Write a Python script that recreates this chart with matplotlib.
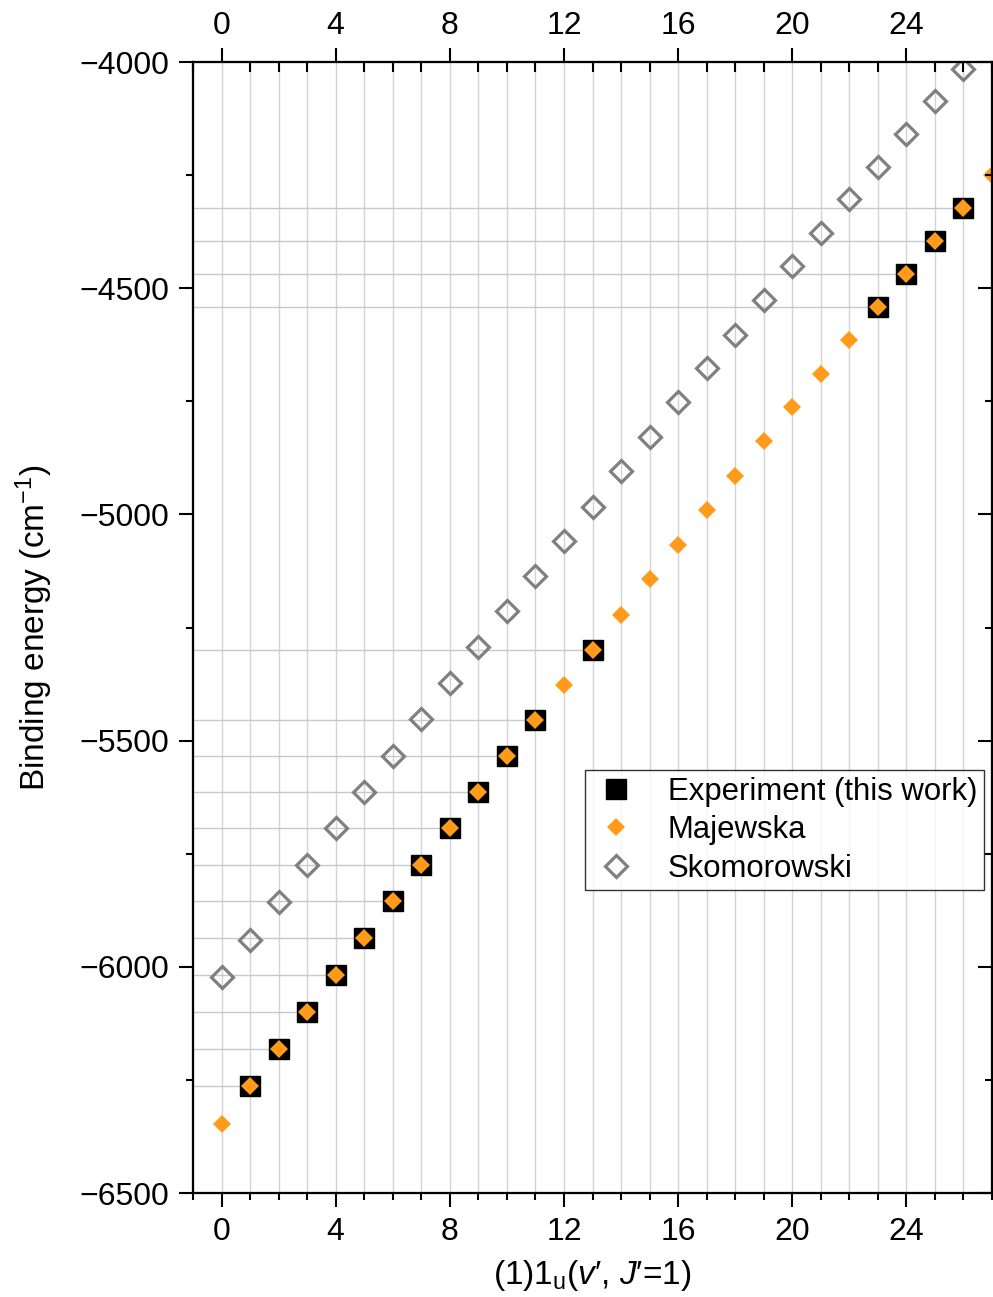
import matplotlib
matplotlib.use("Agg")
import matplotlib.pyplot as plt
from matplotlib.ticker import MultipleLocator
import numpy as np

plt.rcParams['font.family'] = ['Liberation Sans', 'DejaVu Sans']
plt.rcParams['mathtext.fontset'] = 'custom'
plt.rcParams['mathtext.rm'] = 'Liberation Sans'
plt.rcParams['mathtext.it'] = 'Liberation Sans:italic'

# vibrational levels
v_exp = [1, 2, 3, 4, 5, 6, 7, 8, 9, 10, 11, 13, 23, 24, 25, 26]
e_exp = [-6263, -6182, -6100, -6018, -5936, -5855, -5775, -5693, -5614,
         -5534, -5454, -5300, -4542, -4469, -4396, -4323]

v_maj = list(range(0, 28))
e_maj = [-6347, -6263, -6182, -6100, -6018, -5936, -5855, -5775, -5693, -5614,
         -5534, -5454, -5377, -5300, -5222, -5143, -5068, -4990, -4915, -4838,
         -4763, -4690, -4614, -4542, -4469, -4396, -4323, -4250]

v_sko = list(range(0, 27))
e_sko = [-6022, -5941, -5857, -5775, -5693, -5614, -5534, -5452, -5373, -5293,
         -5214, -5136, -5059, -4984, -4904, -4829, -4752, -4676, -4603, -4526,
         -4451, -4378, -4303, -4232, -4159, -4086, -4015]

orange = '#FF9A1A'
gray = '#808080'
grid_c = '#d3d3d3'
fs = 23

fig = plt.figure(figsize=(9.93, 12.97), dpi=100)
ax = fig.add_axes([193/993, 1 - 1193/1297, 799/993, 1131/1297])

xmin, xmax = -1, 27
ymin, ymax = -6500, -4000

# vertical grid at every level
for v in range(0, 27):
    ax.axvline(v, color=grid_c, lw=1.0, zorder=0)

# drop lines from the left axis to the measured levels
ax.hlines(e_exp, xmin, v_exp, color='#c8c8c8', lw=1.0, zorder=0)

ax.plot(v_exp, e_exp, 's', color='black', ms=14, zorder=3,
        label='Experiment (this work)')
ax.plot(v_maj, e_maj, 'D', color=orange, ms=9.5, mew=0, zorder=4,
        label='Majewska')
ax.plot(v_sko, e_sko, 'D', mfc='none', mec=gray, ms=11, mew=2.3, zorder=3,
        label='Skomorowski')

ax.set_xlim(xmin, xmax)
ax.set_ylim(ymin, ymax)

ax.xaxis.set_major_locator(MultipleLocator(4))
ax.xaxis.set_minor_locator(MultipleLocator(1))
ax.yaxis.set_major_locator(MultipleLocator(500))
ax.yaxis.set_minor_locator(MultipleLocator(250))
ax.tick_params(which='major', direction='out', length=10, width=1.5,
               labelsize=fs, pad=7)
ax.tick_params(which='minor', direction='out', length=5, width=1.5)

for s in ax.spines.values():
    s.set_linewidth(1.5)

# top axis
axt = ax.twiny()
axt.set_xlim(xmin, xmax)
axt.xaxis.set_major_locator(MultipleLocator(4))
axt.xaxis.set_minor_locator(MultipleLocator(1))
axt.tick_params(which='major', direction='out', length=10, width=1.5,
                labelsize=fs, pad=5)
axt.tick_params(which='minor', direction='in', length=7, width=1.5)

# right axis ticks
axr = ax.twinx()
axr.set_ylim(ymin, ymax)
axr.yaxis.set_major_locator(MultipleLocator(500))
axr.yaxis.set_minor_locator(MultipleLocator(250))
axr.tick_params(which='major', direction='in', length=10, width=1.5,
                labelright=False)
axr.tick_params(which='minor', direction='in', length=5, width=1.5)

for a in (axt, axr):
    for s in a.spines.values():
        s.set_linewidth(1.5)

ax.set_ylabel('Binding energy (cm$^{\\mathregular{-1}}$)', fontsize=24,
              labelpad=18)
ax.set_xlabel("(1)1$_\\mathregular{u}$($\\mathit{v}$\u2032, $\\mathit{J}$\u2032=1)",
              fontsize=24, labelpad=8)

leg = ax.legend(loc='upper left', bbox_to_anchor=(0.49, 0.374), fontsize=22.4,
                frameon=True, fancybox=False, edgecolor='black',
                handletextpad=0.85, borderpad=0.22, labelspacing=0.27,
                handlelength=1.6, borderaxespad=0)
leg.get_frame().set_linewidth(1.0)

fig.savefig('out.png', dpi=100)
